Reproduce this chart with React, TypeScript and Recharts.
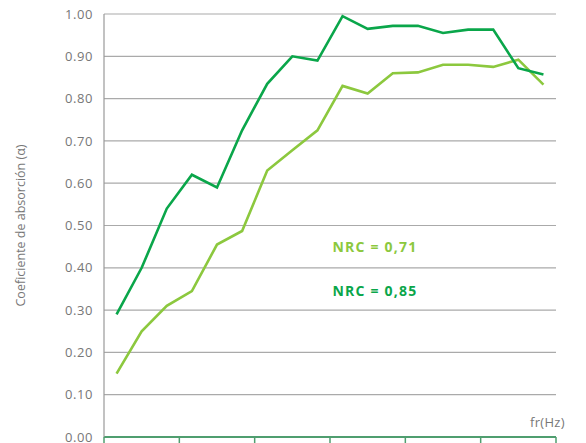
import { LineChart, Line, XAxis, YAxis, CartesianGrid, ReferenceDot } from 'recharts';

const freqs = [100, 125, 160, 200, 250, 315, 400, 500, 630, 800, 1000, 1250, 1600, 2000, 2500, 3150, 4000, 5000];
const dark = [0.29, 0.40, 0.54, 0.62, 0.59, 0.725, 0.835, 0.90, 0.89, 0.995, 0.965, 0.972, 0.972, 0.955, 0.963, 0.963, 0.872, 0.857];
const light = [0.15, 0.25, 0.31, 0.345, 0.455, 0.487, 0.63, 0.678, 0.725, 0.83, 0.812, 0.86, 0.862, 0.88, 0.88, 0.875, 0.892, 0.833];
const bandLabels = ['125', '250', '500', '1000', '2000', '4000'];
const yTicks = [0, 0.1, 0.2, 0.3, 0.4, 0.5, 0.6, 0.7, 0.8, 0.9, 1.0];

const data = freqs.map((f, i) => ({ i: i + 0.5, f, dark: dark[i], light: light[i] }));
const xTicks = [0, 1.5, 3, 4.5, 6, 7.5, 9, 10.5, 12, 13.5, 15, 16.5, 18];

const DARK = '#0aa64a';
const LIGHT = '#8cc83e';
const AXIS_GREEN = '#4f9e6f';
const FONT = '"Open Sans", Lato, sans-serif';

const XTick = (props: any) => {
  const { x, y, payload } = props;
  const v = payload.value;
  if (v % 3 === 0) {
    return <line x1={x} x2={x} y1={y} y2={y + 14} stroke={AXIS_GREEN} strokeWidth={1.5} />;
  }
  const label = bandLabels[Math.floor(v / 3)];
  return (
    <text x={x} y={y + 15} textAnchor="middle" fill="#777" fontSize={13} fontFamily={FONT} letterSpacing={0.6}>
      {label}
    </text>
  );
};

const NrcLabel = (text: string, color: string) => (props: any) => {
  const { viewBox } = props;
  return (
    <text x={viewBox.x} y={viewBox.y + 5} fill={color} fontSize={14} fontWeight={700} fontFamily={FONT} letterSpacing={1.2}>
      {text}
    </text>
  );
};

export default function App() {
  return (
    <div style={{ position: 'absolute', left: 0, top: 0, width: 586, height: 443, overflow: 'hidden', background: '#fff' }}>
      <LineChart width={586} height={470} data={data} margin={{ top: 14, right: 30, bottom: 3, left: 0 }}>
        <CartesianGrid vertical={false} stroke="#aaa" strokeWidth={1.2} />
        <XAxis
          dataKey="i"
          type="number"
          domain={[0, 18]}
          ticks={xTicks}
          interval={0}
          height={30}
          tick={<XTick />}
          tickLine={false}
          tickSize={0}
          tickMargin={0}
          axisLine={{ stroke: AXIS_GREEN, strokeWidth: 2 }}
        />
        <YAxis
          domain={[0, 1]}
          ticks={yTicks}
          interval={0}
          width={104}
          tickFormatter={(v: number) => v.toFixed(2)}
          tick={{ fill: '#777', fontSize: 13, fontFamily: FONT, letterSpacing: 0.6 }}
          tickLine={false}
          tickSize={0}
          tickMargin={11}
          axisLine={{ stroke: '#999', strokeWidth: 1.2 }}
          label={{
            value: 'Coeficiente de absorción (α)',
            angle: -90,
            position: 'insideLeft',
            offset: 21,
            style: { fill: '#777', fontSize: 12.5, fontFamily: FONT, textAnchor: 'middle' },
          }}
        />
        <Line dataKey="light" stroke={LIGHT} strokeWidth={2.6} dot={false} isAnimationActive={false} />
        <Line dataKey="dark" stroke={DARK} strokeWidth={2.6} dot={false} isAnimationActive={false} />
        <ReferenceDot x={9.1} y={0.45} r={0} stroke="none" fill="none" label={NrcLabel('NRC = 0,71', LIGHT)} />
        <ReferenceDot x={9.1} y={0.346} r={0} stroke="none" fill="none" label={NrcLabel('NRC = 0,85', DARK)} />
      </LineChart>
      <div style={{ position: 'absolute', left: 530, top: 413, fontFamily: FONT, fontSize: 13, color: '#777', letterSpacing: 0.3 }}>
        fr(Hz)
      </div>
    </div>
  );
}
